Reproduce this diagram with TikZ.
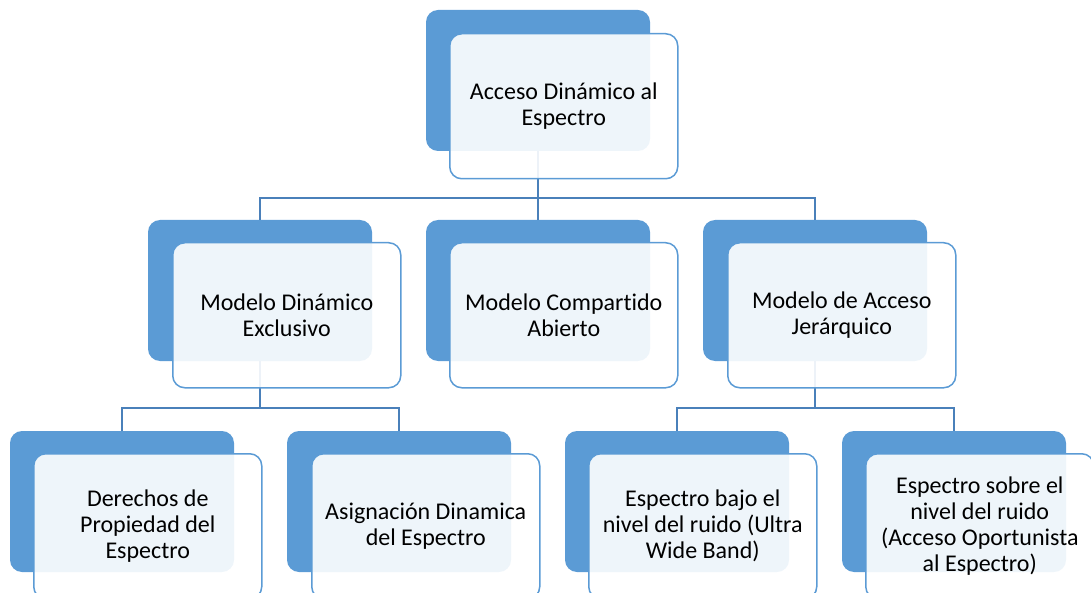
\documentclass[tikz,border=0pt]{standalone}
\usepackage{fontspec}
\setmainfont{Carlito}[Ligatures=NoCommon]
\definecolor{bk}{HTML}{5B9BD5}
\definecolor{bd}{HTML}{5B9BD5}
\definecolor{cn}{HTML}{4A80BA}
\tikzset{
  backbox/.style={fill=bk, draw=none, rounded corners=12pt, minimum width=224pt,
    minimum height=141pt, inner sep=0pt, outer sep=0pt, anchor=north west},
  frontbox/.style={draw=bd, line width=1.5pt, fill=white, fill opacity=0.9, text opacity=1,
    rounded corners=12pt, minimum width=228pt, minimum height=145pt, inner sep=0pt,
    anchor=north west, align=center, font=\fontsize{24}{26}\selectfont, text=black},
  conn/.style={draw=cn, line width=2.2pt}
}
\begin{document}
\begin{tikzpicture}[x=1pt,y=-1pt]
\useasboundingbox (0,0) rectangle (1091,593);
% back boxes
\node[backbox] (tb) at (426,10) {};
\node[backbox] (ab) at (148,220) {};
\node[backbox] (bb) at (426,220) {};
\node[backbox] (cb) at (703,220) {};
\node[backbox] (db) at (10,431) {};
\node[backbox] (eb) at (287,431) {};
\node[backbox] (fb) at (565,431) {};
\node[backbox] (gb) at (842,431) {};
% junctions
\coordinate (j1) at (538,198);
\coordinate (j2) at (260,408);
\coordinate (j3) at (815,408);
% connectors
\draw[conn] (tb.south) -- (j1) -| (ab.north);
\draw[conn] (j1) -| (cb.north);
\draw[conn] (j1) -- (bb.north);
\draw[conn] (ab.south) -- (j2) -| (db.north);
\draw[conn] (j2) -| (eb.north);
\draw[conn] (cb.south) -- (j3) -| (fb.north);
\draw[conn] (j3) -| (gb.north);
% front boxes
\node[frontbox] (t) at (449,33) {Acceso Dinámico al\\Espectro};
\node[frontbox] (a) at (172,242) {Modelo Dinámico\\Exclusivo};
\node[frontbox] (b) at (449,242) {Modelo Compartido\\Abierto};
\node[frontbox] (c) at (727,242) {Modelo de Acceso\\Jerárquico};
\node[frontbox] (d) at (33,453) {Derechos de\\Propiedad del\\Espectro};
\node[frontbox] (e) at (311,453) {Asignación Dinamica\\del Espectro};
\node[frontbox] (f) at (588,453) {Espectro bajo el\\nivel del ruido (Ultra\\Wide Band)};
\node[frontbox] (g) at (865,453) {Espectro sobre el\\nivel del ruido\\(Acceso Oportunista\\al Espectro)};
\end{tikzpicture}
\end{document}
